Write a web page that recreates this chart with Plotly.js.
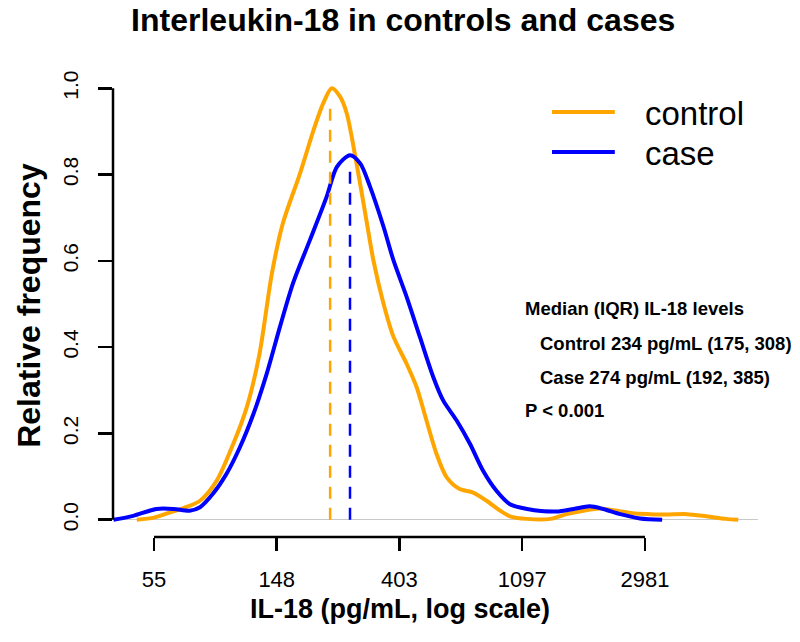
<!DOCTYPE html>
<html>
<head>
<meta charset="utf-8">
<script src="https://cdn.plot.ly/plotly-3.0.1.min.js"></script>
<style>
  html, body { margin: 0; padding: 0; background: #fff; }
  #chart { width: 800px; height: 642px; }
</style>
</head>
<body>
<div id="chart"></div>
<script>
// ---- Data (x in natural-log units of IL-18 pg/mL) ----
const controlLn = [3.86, 4.00, 4.10, 4.25, 4.375, 4.51, 4.646, 4.755, 4.86, 4.96, 5.05, 5.19, 5.30, 5.38, 5.448, 5.515, 5.57, 5.65, 5.73, 5.787, 5.868, 5.95, 6.059, 6.14, 6.22, 6.30, 6.385, 6.49, 6.60, 6.71, 6.82, 6.90, 7.04, 7.23, 7.36, 7.50, 7.63, 7.77, 7.90, 8.04, 8.17, 8.34, 8.50, 8.66, 8.76];
const controlFreq = [0.000, 0.005, 0.014, 0.028, 0.044, 0.09, 0.176, 0.26, 0.385, 0.57, 0.687, 0.803, 0.903, 0.966, 1.000, 0.981, 0.942, 0.826, 0.695, 0.602, 0.503, 0.425, 0.361, 0.307, 0.23, 0.154, 0.098, 0.071, 0.063, 0.044, 0.021, 0.008, 0.002, 0.002, 0.013, 0.021, 0.026, 0.021, 0.015, 0.013, 0.012, 0.013, 0.008, 0.002, 0.0];

const caseLn = [3.67, 3.83, 4.02, 4.16, 4.29, 4.375, 4.48, 4.59, 4.70, 4.81, 4.918, 5.026, 5.135, 5.27, 5.407, 5.49, 5.597, 5.68, 5.76, 5.87, 5.95, 6.059, 6.167, 6.275, 6.357, 6.466, 6.574, 6.68, 6.79, 6.90, 7.04, 7.28, 7.42, 7.55, 7.66, 7.80, 7.96, 8.14];
const caseFreq = [0.0, 0.009, 0.025, 0.025, 0.021, 0.029, 0.06, 0.106, 0.168, 0.245, 0.338, 0.447, 0.55, 0.648, 0.749, 0.818, 0.845, 0.826, 0.772, 0.679, 0.602, 0.516, 0.423, 0.331, 0.276, 0.23, 0.176, 0.114, 0.067, 0.036, 0.025, 0.019, 0.025, 0.031, 0.025, 0.013, 0.003, 0.0];

// dashed marker lines (position, top = curve height)
const seriesNames = ["control", "case"];
const seriesColors = ["#FFA500", "#0000FF"];
const dashLn = [5.435, 5.597];
const dashTop = [0.966, 0.81];

// axis ticks
const xTickVals = [4, 5, 6, 7, 8];
const xTickText = ["55", "148", "403", "1097", "2981"];
const yTickVals = [0, 0.2, 0.4, 0.6, 0.8, 1.0];
const yTickText = ["0.0", "0.2", "0.4", "0.6", "0.8", "1.0"];

const statLines = [
  "<b>Median (IQR) IL-18 levels</b>",
  "<b>Control 234 pg/mL (175, 308)</b>",
  "<b>Case 274 pg/mL (192, 385)</b>",
  "<b>P < 0.001</b>"
];

// ---- Build ----
const FONT = "Liberation Sans, Arial, Helvetica, sans-serif";
const traces = [
  { x: controlLn, y: controlFreq, type: "scatter", mode: "lines",
    line: { color: seriesColors[0], width: 4, shape: "spline", smoothing: 0.8 }, name: seriesNames[0] },
  { x: caseLn, y: caseFreq, type: "scatter", mode: "lines",
    line: { color: seriesColors[1], width: 4, shape: "spline", smoothing: 0.8 }, name: seriesNames[1] }
];
for (let i = 0; i < dashLn.length; i++) {
  traces.push({ x: [dashLn[i], dashLn[i]], y: [0, dashTop[i]], type: "scatter", mode: "lines",
    line: { color: seriesColors[i], width: 2.5, dash: "12px,9px" }, showlegend: false });
}

const shapes = [
  // R-style x axis line spanning first..last tick
  { type: "line", xref: "x", yref: "paper", x0: xTickVals[0], x1: xTickVals[xTickVals.length - 1], y0: 0, y1: 0,
    line: { color: "#000", width: 2.5 } },
  // R-style y axis line spanning first..last tick
  { type: "line", xref: "paper", yref: "y", x0: 0, x1: 0, y0: yTickVals[0], y1: yTickVals[yTickVals.length - 1],
    line: { color: "#000", width: 2.5 } }
];
const annotations = [];
// manual legend
const legY = [0.912, 0.826];
for (let i = 0; i < seriesNames.length; i++) {
  shapes.push({ type: "line", xref: "paper", yref: "paper", x0: 0.6806, x1: 0.778, y0: legY[i], y1: legY[i],
    line: { color: seriesColors[i], width: 4 } });
  annotations.push({ xref: "paper", yref: "paper", x: 0.822, y: legY[i] - 0.004, xanchor: "left", yanchor: "middle",
    text: seriesNames[i], showarrow: false, font: { family: FONT, size: 33, color: "#000" } });
}
const statX = [0.6357, 0.659, 0.659, 0.6357];
const statY = [0.4914, 0.4163, 0.3433, 0.2725];
for (let i = 0; i < statLines.length; i++) {
  annotations.push({ xref: "paper", yref: "paper", x: statX[i], y: statY[i], xanchor: "left", yanchor: "middle",
    text: statLines[i], showarrow: false, font: { family: FONT, size: 18.5, color: "#000" } });
}
// axis titles (R places them relative to the figure, not the plot centre)
annotations.push({ xref: "paper", yref: "paper", x: (400 - 113) / 645, y: -0.155, xanchor: "center", yanchor: "middle",
  text: "<b>IL-18 (pg/mL, log scale)</b>", showarrow: false, font: { family: FONT, size: 27, color: "#000" } });
annotations.push({ xref: "paper", yref: "paper", x: (29 - 113) / 645, y: 0.496, xanchor: "center", yanchor: "middle",
  textangle: -90, text: "<b>Relative frequency</b>", showarrow: false, font: { family: FONT, size: 32, color: "#000" } });

const layout = {
  width: 800, height: 642,
  margin: { l: 113, r: 42, t: 71, b: 105, pad: 0 },
  paper_bgcolor: "#fff", plot_bgcolor: "#fff",
  showlegend: false,
  font: { family: FONT, color: "#000" },
  title: { text: "<b>Interleukin-18 in controls and cases</b>", font: { family: FONT, size: 32, color: "#000" },
    x: 0.504, xanchor: "center", xref: "container", y: 1 - 20 / 642, yanchor: "middle", yref: "container" },
  xaxis: {
    range: [3.666, 8.921], tickmode: "array", tickvals: xTickVals, ticktext: xTickText,
    ticks: "outside", ticklen: 13, tickwidth: 2.5, tickcolor: "#000",
    showline: false, showgrid: false, zeroline: false, ticklabelstandoff: 10,
    tickfont: { family: FONT, size: 22, color: "#000" }
  },
  yaxis: {
    range: [-0.04, 1.04], tickmode: "array", tickvals: yTickVals, ticktext: yTickText, tickangle: -90,
    ticks: "outside", ticklen: 14, tickwidth: 2.5, tickcolor: "#000",
    showline: false, showgrid: false, zeroline: true, zerolinecolor: "#c8c8c8", zerolinewidth: 1,
    ticklabelstandoff: 12,
    tickfont: { family: FONT, size: 21, color: "#000" }
  },
  shapes: shapes,
  annotations: annotations
};

Plotly.newPlot("chart", traces, layout, { staticPlot: true, displayModeBar: false });
</script>
</body>
</html>
